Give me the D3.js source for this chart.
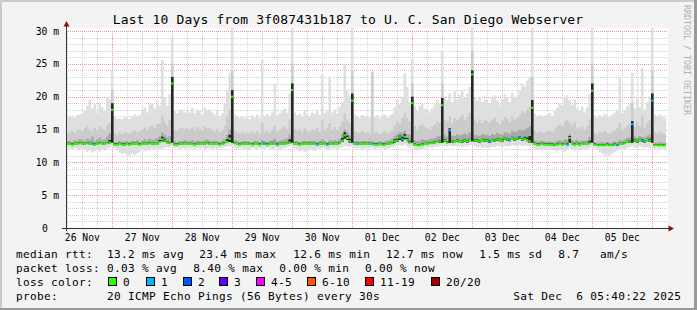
<!DOCTYPE html>
<html><head><meta charset="utf-8">
<script src="https://cdn.jsdelivr.net/npm/d3@7"></script>
<style>
html,body{margin:0;padding:0;background:#f3f3f3;}
svg{display:block;}
text{font-family:"DejaVu Sans Mono",monospace;white-space:pre;}
</style></head><body>
<svg id="c" width="697" height="310"></svg>
<script>
// ---------- DATA (hourly steps from 26 Nov 05:40 to 06 Dec 05:40) ----------
const titleText = "Last 10 Days from 3f087431b187 to U. C. San Diego Webserver";
const yTicks = [0, 5, 10, 15, 20, 25, 30];
const yTickLabels = ["0", "5 m", "10 m", "15 m", "20 m", "25 m", "30 m"];

// median round-trip time (ms)
const med = [
 12.8,12.8,12.7,12.8,12.8,12.9,12.8,12.8,12.9,12.8,12.8,12.7,12.8,12.9,12.8,12.8,12.9,13.0,18.0,12.7,12.7,12.8,12.7,12.7,
 12.8,12.7,12.8,12.8,12.8,12.7,12.8,12.8,12.8,12.9,12.8,12.8,12.8,13.1,13.5,13.3,13.0,12.9,22.0,12.7,12.7,12.8,12.8,12.8,
 12.8,12.8,12.8,12.7,12.8,12.8,12.8,12.8,12.9,12.8,12.8,12.8,12.8,12.7,12.8,12.9,13.1,13.6,20.0,12.9,12.8,12.7,12.8,12.8,
 12.8,12.8,12.7,12.8,12.8,12.7,12.8,12.8,12.7,12.8,12.8,12.8,12.7,12.8,12.8,12.8,12.9,13.0,21.0,12.8,12.8,12.7,12.8,12.8,
 12.8,12.8,12.8,12.8,12.7,12.8,12.8,12.8,12.7,12.8,12.8,12.8,12.8,12.9,13.3,14.1,13.7,13.2,19.4,12.8,12.8,12.8,12.8,12.8,
 12.8,12.8,12.8,12.7,12.7,12.8,12.7,12.7,12.8,12.8,12.9,13.2,13.3,13.8,13.5,13.9,13.4,13.0,19.0,12.7,12.6,12.6,12.7,12.8,
 12.8,12.9,12.9,13.0,13.1,13.2,18.7,13.3,13.0,14.9,13.2,13.1,13.3,13.1,13.2,13.3,13.2,13.4,23.4,13.3,13.3,13.2,13.4,13.3,
 13.3,13.2,13.4,13.3,13.5,13.4,13.3,13.6,13.5,13.4,13.7,13.5,13.6,13.8,13.5,13.6,13.4,13.2,18.3,12.8,12.7,12.7,12.8,12.7,
 12.7,12.7,12.7,12.6,12.7,12.8,12.7,12.8,12.7,13.7,12.8,12.7,12.8,12.7,12.8,12.8,12.8,12.9,20.9,12.7,12.6,12.6,12.6,12.6,
 12.7,12.6,12.6,12.7,12.6,12.8,12.8,12.9,13.1,13.2,15.8,13.3,13.2,13.4,13.3,13.2,13.4,13.3,19.4,12.6,12.6,12.6,12.6,12.6
];
// slowest ping of each step (ms)
const hi = [
 16.8,17.0,16.9,16.8,17.2,17.3,17.4,17.8,18.6,19.5,18.2,18.9,17.6,19.1,18.4,17.8,20.0,19.6,24.0,17.0,16.6,16.7,16.6,16.9,
 16.8,16.6,17.0,17.3,16.9,17.2,17.9,18.4,17.6,18.8,19.0,18.2,19.4,18.6,25.6,19.8,18.6,20.5,29.0,17.8,17.5,17.9,18.0,17.6,
 18.0,17.6,18.3,17.5,18.1,17.8,17.2,18.4,17.9,18.0,17.6,17.3,17.8,17.1,17.5,18.9,21.0,23.6,30.5,17.3,17.0,16.8,16.9,16.7,
 16.9,16.6,17.1,16.8,17.3,16.7,25.6,17.0,17.4,16.9,17.6,22.0,17.2,17.5,17.8,18.2,17.6,20.5,30.5,17.6,17.2,17.4,17.0,17.8,
 17.3,17.0,17.6,17.4,17.8,17.2,23.4,17.5,17.9,23.0,17.6,18.0,17.4,18.5,19.2,25.0,21.0,20.2,30.5,17.3,17.0,16.8,17.2,16.9,
 17.0,16.8,23.8,16.9,17.2,16.7,17.0,17.3,16.8,17.1,17.4,18.4,19.5,18.8,20.0,23.6,21.5,19.2,25.6,18.5,17.8,18.6,19.0,18.2,
 18.0,17.6,18.2,18.8,19.4,19.0,27.0,20.0,19.5,20.5,19.2,20.8,19.6,20.3,21.0,19.8,20.4,21.5,30.5,19.8,19.4,20.0,19.2,19.6,
 19.6,19.0,19.8,20.2,19.4,18.8,19.6,20.4,19.9,19.2,20.6,19.8,20.2,21.0,22.0,21.6,22.5,23.0,30.5,17.4,17.0,17.2,16.9,17.1,
 17.2,17.5,17.0,17.8,18.3,19.0,18.6,19.8,20.2,19.4,18.7,19.6,18.2,17.9,18.5,17.6,18.4,20.5,30.5,17.0,16.8,17.2,16.9,17.4,
 17.0,16.8,17.3,17.6,18.0,22.8,17.4,17.9,18.5,19.0,23.6,18.2,19.6,18.4,24.4,18.0,19.2,20.0,30.5,17.2,16.9,17.3,17.0,16.8
];
// upper quartile of pings (ms)
const p75 = [
 14.6,14.4,14.8,14.5,14.9,15.0,14.7,15.2,15.4,15.0,14.8,15.3,14.9,15.5,15.1,14.8,15.6,16.0,21.0,14.4,14.2,14.5,14.3,14.6,
 14.5,14.3,14.6,14.8,14.5,14.7,15.0,15.3,14.9,15.5,15.6,15.2,15.8,15.9,17.0,16.2,15.6,16.5,25.0,15.0,14.8,15.2,15.3,15.0,
 15.2,15.0,15.4,14.9,15.3,15.1,14.8,15.5,15.2,15.3,14.9,14.7,15.1,14.6,14.9,15.6,17.0,18.0,24.0,14.8,14.6,14.4,14.6,14.3,
 14.5,14.3,14.7,14.4,14.8,14.3,16.0,14.6,14.9,14.5,15.0,15.5,14.7,14.9,15.2,15.5,15.1,16.5,25.0,15.0,14.8,15.0,14.6,15.2,
 14.8,14.6,15.0,14.9,15.2,14.7,16.5,14.9,15.3,16.0,15.0,15.4,14.9,15.6,16.2,17.5,16.5,16.0,24.0,14.8,14.6,14.5,14.8,14.5,
 14.6,14.4,23.8,14.5,14.7,14.3,14.6,14.8,14.4,14.7,14.9,15.6,16.2,16.0,16.8,17.5,16.8,16.2,22.0,15.6,15.0,15.6,15.9,15.4,
 15.2,15.0,15.4,15.8,16.2,16.0,22.0,16.5,16.2,17.0,16.0,16.8,16.4,16.7,17.2,16.5,16.9,17.5,27.0,16.5,16.2,16.6,16.0,16.4,
 16.3,16.0,16.5,16.8,16.2,15.8,16.4,16.9,16.6,16.1,17.0,16.5,16.8,17.3,17.8,17.5,18.0,18.5,23.0,14.8,14.5,14.7,14.5,14.6,
 14.7,14.9,14.6,15.1,15.4,15.8,15.5,16.2,16.5,16.0,15.6,16.1,15.3,15.1,15.5,14.9,15.4,16.5,25.0,14.5,14.3,14.7,14.5,14.8,
 14.5,14.3,14.7,14.9,15.2,16.0,14.8,15.2,15.6,15.9,19.0,15.4,16.2,15.6,17.0,15.3,16.0,16.4,24.0,14.6,14.4,14.7,14.5,14.3
];
// upper edge of the denser pings above the median (ms)
const dense = [
 13.2,13.3,13.1,13.4,13.3,13.5,13.4,13.2,13.6,13.4,13.9,13.2,13.5,13.8,13.4,13.5,13.9,14.4,19.0,13.1,13.1,13.3,13.1,13.2,
 13.2,13.1,13.3,13.2,13.4,13.1,13.3,13.5,13.3,13.6,13.4,13.5,13.7,14.0,14.6,14.2,13.8,14.0,23.0,13.2,13.1,13.3,13.2,13.4,
 13.3,13.2,13.4,13.1,13.3,13.2,13.2,13.4,13.5,13.3,13.2,13.3,13.2,13.1,13.3,13.6,14.2,15.0,21.0,13.4,13.2,13.1,13.2,13.2,
 13.2,13.1,13.1,13.3,13.2,13.1,13.4,13.2,13.1,13.3,13.4,13.6,13.2,13.3,13.4,13.5,13.6,14.2,22.0,13.3,13.2,13.1,13.2,13.3,
 13.2,13.3,13.2,13.3,13.1,13.3,13.5,13.2,13.1,13.4,13.3,13.4,13.3,13.6,14.3,15.0,14.6,14.2,20.5,13.2,13.3,13.2,13.3,13.2,
 13.2,13.3,13.2,13.1,13.1,13.2,13.1,13.2,13.3,13.4,13.6,14.0,14.3,14.6,14.5,14.8,14.3,14.2,20.0,13.4,13.2,13.3,13.5,13.4,
 13.4,13.5,13.6,13.7,13.9,14.0,19.8,14.2,13.9,15.2,14.1,14.0,14.3,14.1,14.2,14.4,14.2,14.6,24.0,14.2,14.1,14.0,14.3,14.2,
 14.2,14.0,14.3,14.2,14.5,14.3,14.2,14.6,14.5,14.3,14.8,14.6,14.7,15.0,14.8,15.0,15.2,15.5,19.5,13.3,13.2,13.2,13.3,13.2,
 13.1,13.2,13.1,13.1,13.3,13.4,13.2,13.5,13.4,14.3,13.4,13.3,13.4,13.2,13.3,13.3,13.4,13.9,22.0,13.1,13.0,13.0,13.1,13.0,
 13.1,13.0,13.1,13.2,13.1,13.4,13.3,13.5,13.7,13.8,16.3,13.9,13.8,14.0,13.9,13.8,14.1,14.2,20.5,13.0,13.0,13.1,13.0,13.0
];
// upper edge of the tight core of pings around the median (ms)
const core = [
 13.0,13.0,12.9,13.0,13.0,13.1,13.0,13.0,13.1,13.0,13.0,12.9,13.0,13.1,13.0,13.0,13.1,13.4,19.0,12.9,12.9,13.0,12.9,12.9,
 13.0,12.9,13.0,13.0,13.0,12.9,13.0,13.0,13.0,13.1,13.0,13.0,13.0,13.4,13.9,13.6,13.2,13.1,23.0,12.9,12.9,13.0,13.0,13.0,
 13.0,13.0,13.0,12.9,13.0,13.0,13.0,13.0,13.1,13.0,13.0,13.0,13.0,12.9,13.0,13.1,13.5,14.2,21.0,13.1,13.0,12.9,13.0,13.0,
 13.0,13.0,12.9,13.0,13.0,12.9,13.0,13.0,12.9,13.0,13.0,13.0,12.9,13.0,13.0,13.0,13.1,13.5,22.0,13.0,13.0,12.9,13.0,13.0,
 13.0,13.0,13.0,13.0,12.9,13.0,13.0,13.0,12.9,13.0,13.0,13.0,13.0,13.1,13.7,14.6,14.1,13.6,20.5,13.0,13.0,13.0,13.0,13.0,
 13.0,13.0,13.0,12.9,12.9,13.0,12.9,12.9,13.0,13.0,13.1,13.5,13.6,14.1,13.9,14.3,13.7,13.3,20.0,12.9,12.8,12.8,12.9,13.0,
 13.0,13.1,13.1,13.2,13.3,13.4,19.8,13.5,13.2,15.2,13.4,13.3,13.5,13.3,13.4,13.5,13.4,13.6,24.0,13.5,13.5,13.4,13.6,13.5,
 13.5,13.4,13.6,13.5,13.7,13.6,13.5,13.8,13.7,13.6,13.9,13.7,13.8,14.0,13.7,13.9,13.8,14.0,19.5,13.0,12.9,12.9,13.0,12.9,
 12.9,12.9,12.9,12.8,12.9,13.0,12.9,13.0,12.9,14.0,13.0,12.9,13.0,12.9,13.0,13.0,13.0,13.3,22.0,12.9,12.8,12.8,12.8,12.8,
 12.9,12.8,12.8,12.9,12.8,13.0,13.0,13.1,13.3,13.4,16.3,13.5,13.4,13.6,13.5,13.4,13.6,13.6,20.5,12.8,12.8,12.8,12.8,12.8
];
// lower edge of the dense pings, just under the median (ms)
const p25 = [
 12.7,12.7,12.6,12.7,12.7,12.8,12.7,12.7,12.8,12.7,12.7,12.6,12.7,12.8,12.7,12.7,12.8,12.9,13.0,12.6,12.6,12.7,12.6,12.6,
 12.7,12.6,12.7,12.7,12.7,12.6,12.7,12.7,12.7,12.8,12.7,12.7,12.7,13.0,13.2,13.1,12.9,12.8,13.0,12.6,12.6,12.7,12.7,12.7,
 12.7,12.7,12.7,12.6,12.7,12.7,12.7,12.7,12.8,12.7,12.7,12.7,12.7,12.6,12.7,12.8,13.0,13.1,13.0,12.8,12.7,12.6,12.7,12.7,
 12.7,12.7,12.6,12.7,12.7,12.6,12.7,12.7,12.6,12.7,12.7,12.7,12.6,12.7,12.7,12.7,12.8,12.9,13.0,12.7,12.7,12.6,12.7,12.7,
 12.7,12.7,12.7,12.7,12.6,12.7,12.7,12.7,12.6,12.7,12.7,12.7,12.7,12.8,13.1,13.6,13.4,13.0,13.0,12.7,12.7,12.7,12.7,12.7,
 12.7,12.7,12.8,12.6,12.6,12.7,12.6,12.6,12.7,12.7,12.8,13.0,13.1,13.4,13.2,13.5,13.2,12.9,13.0,12.6,12.5,12.5,12.6,12.7,
 12.7,12.8,12.8,12.9,13.0,13.0,13.0,13.1,12.9,13.0,13.0,13.0,13.1,13.0,13.0,13.1,13.0,13.2,13.2,13.1,13.1,13.0,13.2,13.1,
 13.1,13.0,13.2,13.1,13.3,13.2,13.1,13.4,13.3,13.2,13.5,13.3,13.4,13.6,13.3,13.4,13.2,13.0,13.0,12.7,12.6,12.6,12.7,12.6,
 12.6,12.6,12.6,12.5,12.6,12.7,12.6,12.7,12.6,13.0,12.7,12.6,12.7,12.6,12.7,12.7,12.7,12.8,13.0,12.6,12.5,12.5,12.5,12.5,
 12.6,12.5,12.5,12.6,12.5,12.7,12.7,12.8,13.0,13.0,13.0,13.1,13.0,13.2,13.1,13.0,13.2,13.1,13.0,12.5,12.5,12.5,12.5,12.5
];
// fastest ping of each step (ms)
const lo = [
 12.2,12.1,12.0,12.2,12.1,11.9,12.1,12.0,11.6,11.8,11.5,11.7,11.9,11.6,12.0,11.8,12.1,12.2,12.4,12.1,11.8,11.5,11.3,11.4,
 11.2,11.0,11.3,11.1,11.4,11.6,11.9,11.7,12.0,11.8,12.1,11.9,12.2,12.0,12.1,12.2,12.3,12.3,12.5,12.1,12.2,12.0,12.2,12.1,
 12.2,12.1,12.2,12.0,12.2,12.1,12.2,12.0,12.1,12.2,12.0,12.2,12.1,12.2,12.1,12.3,12.4,12.5,12.5,12.2,12.1,12.2,12.1,12.0,
 12.1,12.0,12.2,12.1,11.9,12.2,12.0,12.1,12.2,12.1,12.0,12.1,12.2,12.0,12.1,12.2,12.3,12.4,12.5,12.1,11.9,11.7,11.8,11.6,
 11.7,11.9,12.0,11.8,12.1,12.0,12.2,12.1,11.9,12.0,12.2,12.1,12.0,12.2,12.3,12.5,12.4,12.3,12.5,12.2,12.1,12.2,12.0,12.1,
 12.2,12.1,12.3,12.0,12.2,12.1,12.2,12.0,12.1,12.2,12.3,12.4,12.5,12.6,12.5,12.7,12.4,12.2,12.5,12.0,11.8,11.9,12.0,12.1,
 12.2,12.3,12.2,12.4,12.3,12.5,12.6,12.5,12.4,12.6,12.4,12.5,12.4,12.5,12.3,12.5,12.4,12.6,12.7,12.4,12.3,12.4,12.2,12.3,
 12.3,12.2,12.4,12.3,12.5,12.4,12.3,12.5,12.4,12.5,12.6,12.5,12.4,12.6,12.5,12.6,12.5,12.4,12.6,12.0,11.9,12.0,11.8,12.0,
 12.1,11.9,12.0,11.8,11.7,11.9,11.8,11.6,11.9,12.2,12.0,11.8,12.1,12.0,11.9,12.1,12.0,12.2,12.4,12.1,11.9,11.6,11.4,11.0,
 11.2,10.9,11.3,11.6,11.8,12.0,12.1,12.0,12.2,12.3,12.4,12.3,12.2,12.4,12.3,12.2,12.3,12.2,12.5,12.0,12.1,12.0,12.1,12.0
];
// steps with lost pings: step index and number of lost pings
const lossHours = [10, 79, 84, 100, 104, 116, 122, 134, 153, 169, 177, 181, 200, 220, 226, 230, 234];
const lossPings = [1, 1, 1, 1, 1, 1, 1, 1, 1, 1, 1, 1, 1, 1, 1, 1, 1];

const lossLabels = ["0", "1", "2", "3", "4-5", "6-10", "11-19", "20/20"];
const lossColors = ["#26ff00", "#00b8ff", "#0059ff", "#5e00ff", "#ff00ff", "#ff5500", "#ff0000", "#a00000"];
const lossBreaks = [1, 2, 3, 4, 6, 11, 20];

const rttStats = ["13.2 ms avg", "23.4 ms max", "12.6 ms min", "12.7 ms now", "1.5 ms sd", "8.7", "am/s"];
const lossStats = ["0.03 % avg", "8.40 % max", "0.00 % min", "0.00 % now"];
const probeText = "20 ICMP Echo Pings (56 Bytes) every 30s";
const stampText = "Sat Dec  6 05:40:22 2025";
const watermark = "RRDTOOL / TOBI OETIKER";

// ---------- DRAWING ----------
const W = 697, H = 310;
const X0 = 66, X1 = 666, YB = 228, YT = 31;
const svg = d3.select("#c");

const start = new Date(2025, 10, 26, 5, 40, 22);
const end = d3.timeHour.offset(start, med.length);
const x = d3.scaleTime().domain([start, end]).range([X0, X1]);
const y = d3.scaleLinear().domain([0, 30]).range([YB, YT]);
const lossColor = d3.scaleThreshold().domain(lossBreaks).range(lossColors);

const rows = med.map((m, i) => ({
  t: d3.timeHour.offset(start, i), med: m, lo: lo[i], p25: p25[i],
  dense: dense[i], core: core[i], p75: p75[i], hi: hi[i], loss: 0
}));
lossHours.forEach((h, k) => { rows[h].loss = lossPings[k]; });
const rowsExt = rows.concat([Object.assign({}, rows[rows.length - 1], {t: end})]);

// background + frame
svg.append("rect").attr("width", W).attr("height", H).attr("fill", "#f3f3f3");
svg.append("rect").attr("x", 0).attr("y", 0).attr("width", W).attr("height", 2).attr("fill", "#cbcbcb");
svg.append("rect").attr("x", 0).attr("y", 0).attr("width", 2).attr("height", H).attr("fill", "#cbcbcb");
svg.append("rect").attr("x", W - 3).attr("y", 0).attr("width", 3).attr("height", H).attr("fill", "#999");
svg.append("rect").attr("x", 0).attr("y", H - 2).attr("width", W).attr("height", 2).attr("fill", "#999");

// canvas
svg.append("rect").attr("x", X0).attr("y", 28).attr("width", 602).attr("height", YB - 28).attr("fill", "#fff");

// grid
const grid = svg.append("g").attr("fill", "none").attr("stroke-dasharray", "1,1");
const px = v => Math.round(v) + 0.5;
const minorH = d3.range(1, 30).filter(v => v % 5 !== 0);
grid.selectAll("line.mh").data(minorH).join("line")
  .attr("x1", X0).attr("x2", 668).attr("y1", d => px(y(d))).attr("y2", d => px(y(d)))
  .attr("stroke", "#cfcfcf");
const minorV = d3.timeHour.every(6).range(start, end).filter(d => d.getHours() !== 0);
grid.selectAll("line.mv").data(minorV).join("line")
  .attr("x1", d => px(x(d))).attr("x2", d => px(x(d))).attr("y1", YT).attr("y2", YB)
  .attr("stroke", "#cfcfcf");
const majorH = yTicks.filter(v => v > 0);
grid.selectAll("line.Mh").data(majorH).join("line")
  .attr("x1", X0).attr("x2", 668).attr("y1", d => px(y(d))).attr("y2", d => px(y(d)))
  .attr("stroke", "#e69a9a");
const days = d3.timeDay.range(start, end);
grid.selectAll("line.Mv").data(days).join("line")
  .attr("x1", d => px(x(d))).attr("x2", d => px(x(d))).attr("y1", YT).attr("y2", YB)
  .attr("stroke", "#e69a9a");

// smoke
svg.append("clipPath").attr("id", "clip").append("rect")
  .attr("x", X0).attr("y", 28).attr("width", 602).attr("height", YB - 28);
const plot = svg.append("g").attr("clip-path", "url(#clip)");
const band = (a, b) => d3.area().curve(d3.curveStepAfter)
  .x(d => x(d.t)).y0(d => y(d[a])).y1(d => y(d[b]));
plot.append("path").datum(rowsExt).attr("d", band("lo", "hi")).attr("fill", "#dfdfdf");
plot.append("path").datum(rowsExt).attr("d", band("p25", "p75")).attr("fill", "#cbcbcb");
plot.append("path").datum(rowsExt).attr("d", band("p25", "dense")).attr("fill", "#a8a8a8");
plot.append("path").datum(rowsExt).attr("d", band("p25", "core")).attr("fill", "#262626");

// median, coloured by loss
plot.selectAll("line.med").data(rows).join("line")
  .attr("x1", d => x(d.t)).attr("x2", (d, i) => x(rowsExt[i + 1].t))
  .attr("y1", d => y(d.med)).attr("y2", d => y(d.med))
  .attr("stroke", d => lossColor(d.loss)).attr("stroke-width", 2);

// axes
svg.append("line").attr("x1", 62).attr("x2", 669).attr("y1", YB + 0.5).attr("y2", YB + 0.5)
  .attr("stroke", "#333").attr("stroke-width", 1);
svg.append("line").attr("x1", X0 + 0.5).attr("x2", X0 + 0.5).attr("y1", 231).attr("y2", 25)
  .attr("stroke", "#333").attr("stroke-width", 1);
svg.append("path").attr("d", `M${X0 + 0.5},21 L${X0 + 3.5},26.5 L${X0 - 2.5},26.5 Z`).attr("fill", "#8b1010");
svg.append("path").attr("d", `M674,${YB + 0.5} L668.5,${YB - 2.5} L668.5,${YB + 3.5} Z`).attr("fill", "#8b1010");

// axis labels
svg.selectAll("text.yl").data(yTicks).join("text")
  .attr("x", (d, i) => i === 0 ? 47.8 : 59).attr("y", d => y(d) + 3.6)
  .attr("text-anchor", "end").attr("font-size", "9.7px").attr("fill", "#000")
  .text((d, i) => yTickLabels[i]);
const fmt = d3.timeFormat("%d %b");
const noons = d3.timeDay.range(d3.timeDay.floor(start), end)
  .map(d => d3.timeHour.offset(d, 12)).filter(d => d > start && d < end);
svg.selectAll("text.xl").data(noons).join("text")
  .attr("x", d => x(d) + 0.5).attr("y", 241)
  .attr("text-anchor", "middle").attr("font-size", "9.7px").attr("fill", "#000")
  .text(d => fmt(d));

// title
svg.append("text").attr("x", 348).attr("y", 24).attr("text-anchor", "middle")
  .attr("font-size", "13px").attr("letter-spacing", "0.15px").attr("fill", "#000").text(titleText);

// watermark
svg.append("text").attr("transform", "translate(684,5) rotate(90)")
  .attr("font-size", "8.3px").attr("fill", "#b0b0b0").text(watermark);

// legend
const leg = svg.append("g").attr("font-size", "11.1px").attr("letter-spacing", "0.32px").attr("fill", "#000");
const put = (xx, yy, t) => leg.append("text").attr("x", xx).attr("y", yy).text(t);
put(16, 258, "median rtt:");
[107, 199.3, 293.3, 386, 479.3, 558.3, 600].forEach((xx, i) => put(xx, 258, rttStats[i]));
put(16, 272, "packet loss:");
[107, 193.3, 279.3, 365].forEach((xx, i) => put(xx, 272, lossStats[i]));
put(16, 286, "loss color:");
const sqX = [108, 146, 183, 219, 256, 307, 365, 431];
lossLabels.forEach((l, i) => {
  leg.append("rect").attr("x", sqX[i] + 0.5).attr("y", 277.5).attr("width", 8).attr("height", 8)
    .attr("fill", lossColors[i]).attr("stroke", "#000").attr("stroke-width", 1);
  put(sqX[i] + 15, 286, l);
});
put(16, 300, "probe:");
put(107, 300, probeText);
put(513.3, 300, stampText);
</script>
</body></html>
